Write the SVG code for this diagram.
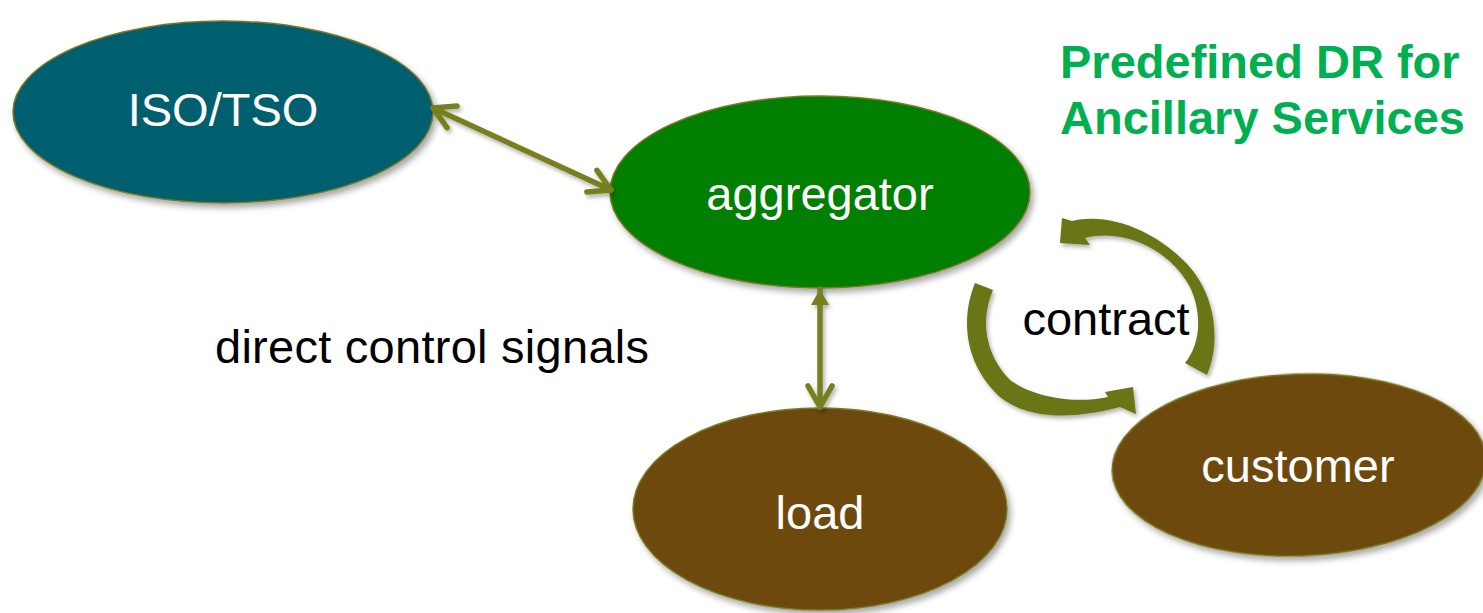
<svg xmlns="http://www.w3.org/2000/svg" width="1483" height="613" viewBox="0 0 1483 613">
  <style>
    .node { stroke: #7a7a22; stroke-width: 1.5; filter: url(#shadow); }
    .label { font-family: "Liberation Sans", Arial, sans-serif; font-size: 47px; text-anchor: middle; fill: #ffffff; }
    .plain { font-family: "Liberation Sans", Arial, sans-serif; font-size: 47px; fill: #000000; }
    .title { font-family: "Liberation Sans", Arial, sans-serif; font-size: 47px; font-weight: bold; fill: #00b050; }
    .link { fill: none; stroke: #77801f; stroke-width: 5.5; stroke-linecap: round; filter: url(#soft); }
    .swirl { fill: #6b7414; filter: url(#soft); }
  </style>
  <defs>
    <filter id="shadow" x="-10%" y="-10%" width="125%" height="130%">
      <feDropShadow dx="3" dy="4" stdDeviation="3" flood-color="#000" flood-opacity="0.35"/>
    </filter>
    <!-- user-space region so thin vertical lines still get a shadow -->
    <filter id="soft" filterUnits="userSpaceOnUse" x="0" y="0" width="1483" height="613">
      <feDropShadow dx="2" dy="3" stdDeviation="2" flood-color="#000" flood-opacity="0.3"/>
    </filter>
    <!-- open chevron head -->
    <marker id="chev" markerUnits="userSpaceOnUse" viewBox="-26 -16 30 32" refX="0" refY="0" markerWidth="30" markerHeight="32" orient="auto-start-reverse">
      <path d="M-21,-12 L0,0 L-21,12" fill="none" stroke="#77801f" stroke-width="5.5" stroke-linecap="round" stroke-linejoin="round"/>
    </marker>
    <!-- filled triangle head -->
    <marker id="tri" markerUnits="userSpaceOnUse" viewBox="-18 -10 20 20" refX="0" refY="0" markerWidth="20" markerHeight="20" orient="auto-start-reverse">
      <path d="M-16,-9 L0,0 L-16,9 Z" fill="#77801f"/>
    </marker>
  </defs>

  <rect width="1483" height="613" fill="#ffffff"/>

  <g id="iso-tso">
    <ellipse class="node" cx="223" cy="112" rx="210" ry="91" fill="#005e6e"/>
    <text class="label" x="223" y="126">ISO/TSO</text>
  </g>

  <g id="aggregator">
    <ellipse class="node" cx="820" cy="192" rx="210" ry="96" fill="#007f00"/>
    <text class="label" x="820" y="210">aggregator</text>
  </g>

  <g id="load">
    <ellipse class="node" cx="820" cy="509" rx="187" ry="101" fill="#6e4811"/>
    <text class="label" x="820" y="529">load</text>
  </g>

  <g id="customer">
    <ellipse class="node" cx="1299" cy="465" rx="187" ry="91" fill="#6e4811" transform="rotate(-2 1299 465)"/>
    <text class="label" x="1298" y="482">customer</text>
  </g>

  <g id="connectors">
    <line class="link" x1="433" y1="108" x2="611" y2="190" marker-start="url(#chev)" marker-end="url(#chev)"/>
    <line class="link" x1="820" y1="289" x2="820" y2="407" marker-start="url(#tri)" marker-end="url(#chev)"/>
    <path class="swirl" d="M1207,375 C1222,340 1215,290 1183,260 C1155,232 1110,212 1072,221 L1062,218 L1060,243 L1090,245 L1085,238 C1125,228 1170,250 1190,287 C1203,315 1200,345 1185,363 Z"/>
    <path class="swirl" d="M975,283 C960,320 965,365 1000,397 C1035,425 1090,415 1120,407 L1136,414 L1133,387 L1105,392 L1108,397 C1070,405 1030,395 1010,380 C985,355 980,320 993,290 Z"/>
  </g>

  <g id="labels">
    <text class="plain" x="215" y="363" textLength="434">direct control signals</text>
    <text class="plain" x="1106" y="335" text-anchor="middle">contract</text>
    <text class="title" x="1060" y="78">Predefined DR for</text>
    <text class="title" x="1060" y="134">Ancillary Services</text>
  </g>
</svg>
